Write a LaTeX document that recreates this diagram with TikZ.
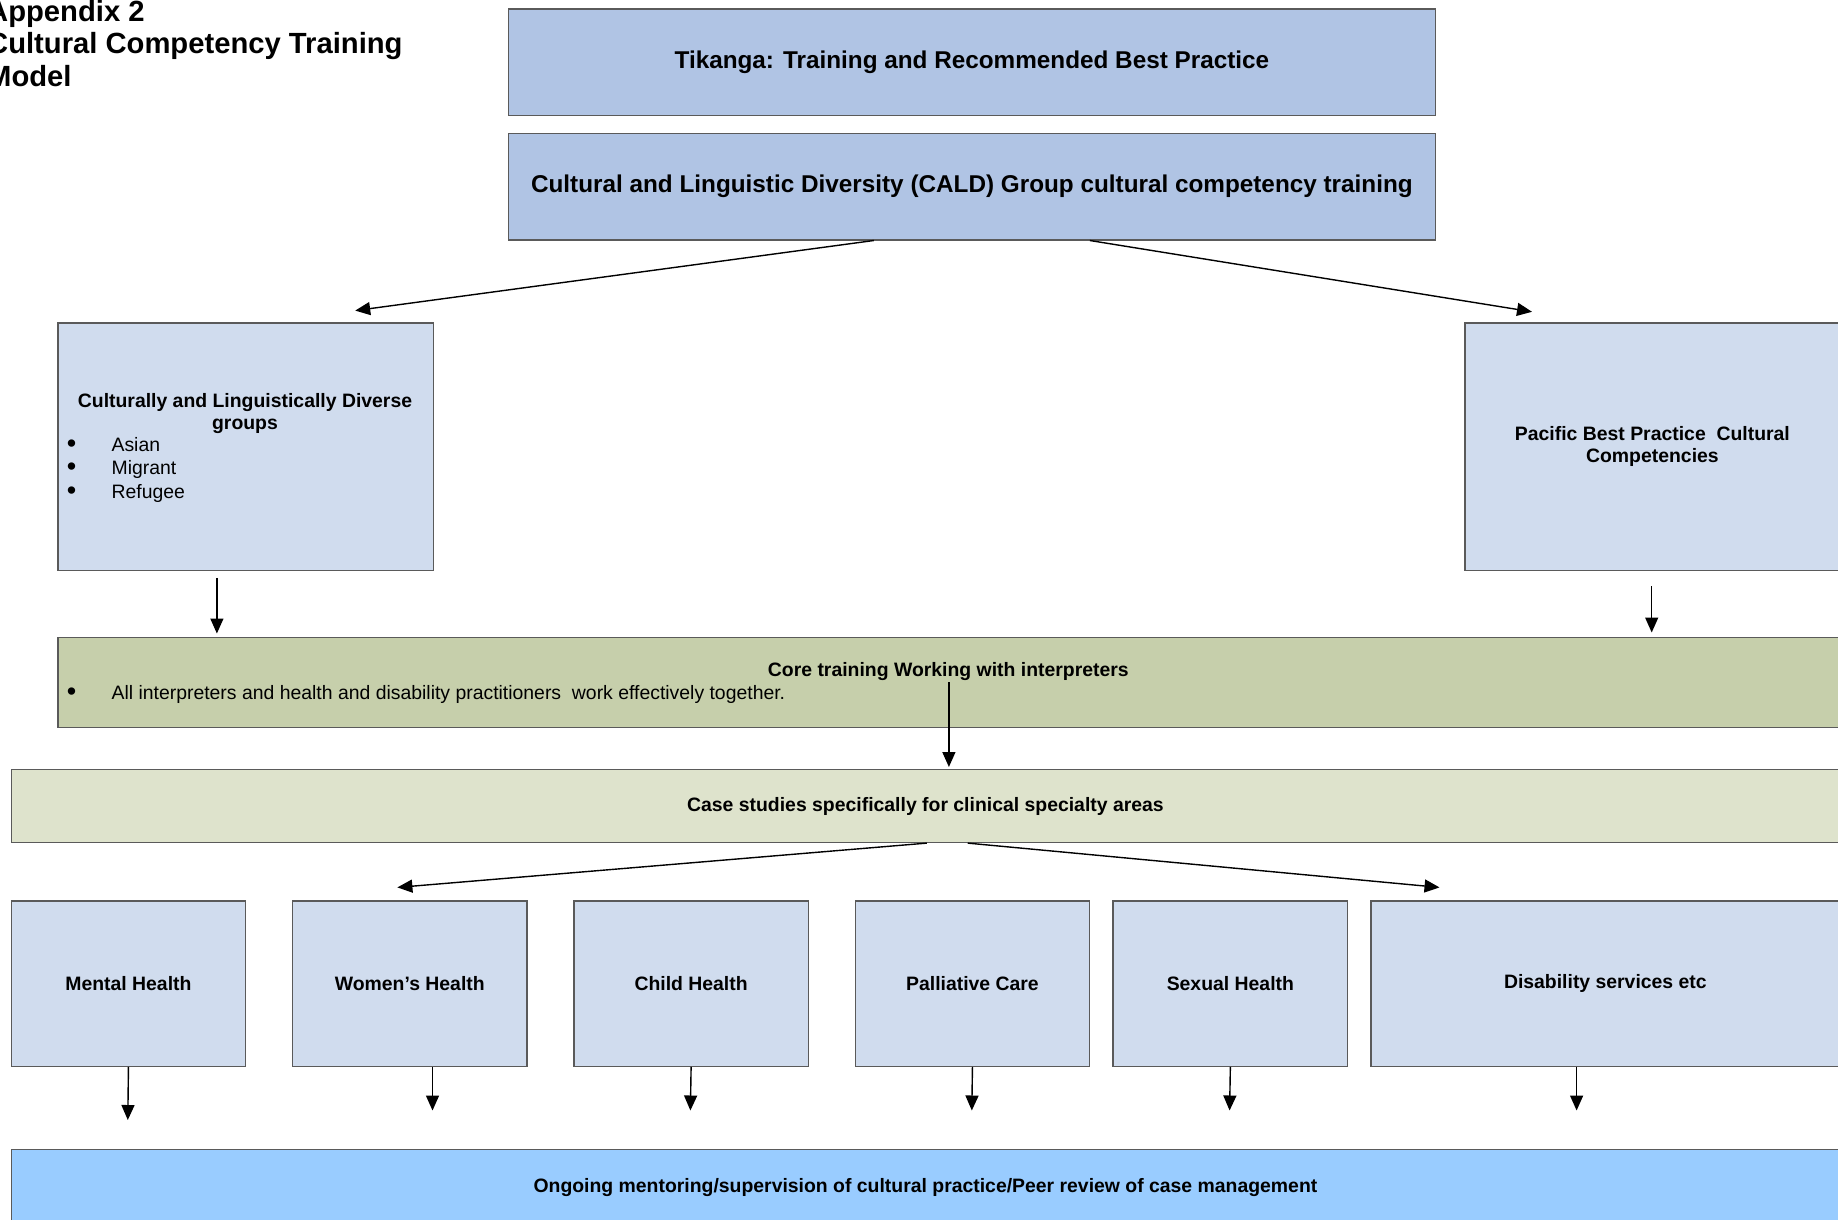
\documentclass[tikz,border=0pt]{standalone}
\usepackage{fontspec}
\setmainfont{Liberation Sans}
\usetikzlibrary{arrows.meta,calc}
\definecolor{topblue}{HTML}{B0C4E4}
\definecolor{paleblue}{HTML}{D0DCEE}
\definecolor{coregreen}{HTML}{C6CFAB}
\definecolor{casegreen}{HTML}{DEE3CC}
\definecolor{skyblue}{HTML}{99CCFF}
\definecolor{edgegray}{HTML}{5A5A5A}
\newcommand{\bigbul}{{\fontsize{27}{27}\selectfont\textbullet}}
\begin{document}
\begin{tikzpicture}[x=1pt,y=-1pt,
  box/.style={draw=edgegray, line width=1.4pt, rectangle, inner sep=0pt, anchor=north west, align=center},
  bigtxt/.style={font=\fontsize{24.3}{28}\selectfont\bfseries},
  midtxt/.style={font=\fontsize{19.4}{22.3}\selectfont\bfseries},
  plain/.style={inner sep=0pt, font=\fontsize{19.4}{22.3}\selectfont},
  bold/.style={inner sep=0pt, font=\fontsize{19.4}{22.3}\selectfont\bfseries},
  titletxt/.style={inner sep=0pt, anchor=base west, font=\fontsize{29.2}{33}\selectfont\bfseries},
  conn/.style={line width=1.4pt, -{Triangle[length=15pt,width=13pt]}},
]
\useasboundingbox (0,0) rectangle (1838,1219);

% title
\node[titletxt] (t1) at (-13,21) {Appendix 2};
\node[titletxt] (t2) at (-13,53.5) {Cultural Competency Training};
\node[titletxt] (t3) at (-13,86) {Model};

% top boxes
\node[box, bigtxt, fill=topblue, minimum width=927.2pt, minimum height=106.7pt] (tik) at (507.6,8.2)
  {Tikanga: Training and Recommended Best Practice};
\node[box, bigtxt, fill=topblue, minimum width=927.2pt, minimum height=106.6pt] (cald) at (507.6,132.5)
  {Cultural and Linguistic Diversity (CALD) Group cultural competency training};

% second row
\node[box, fill=paleblue, minimum width=375.1pt, minimum height=247.3pt] (cldbox) at (57.4,322.4) {};
\node[bold, align=center] (cldtitle) at (245,413.3) {Culturally and Linguistically Diverse\\groups};
\node[plain, anchor=base] (b1) at (71.5,452.3) {\bigbul};
\node[plain, anchor=base west] (i1) at (111.4,451.3) {Asian};
\node[plain, anchor=base] (b2) at (71.5,475.7) {\bigbul};
\node[plain, anchor=base west] (i2) at (111.4,474.7) {Migrant};
\node[plain, anchor=base] (b3) at (71.5,499.2) {\bigbul};
\node[plain, anchor=base west] (i3) at (111.4,498.2) {Refugee};

\node[box, midtxt, fill=paleblue, minimum width=375.2pt, minimum height=247.3pt] (pac) at (1464.1,322.4)
  {Pacific Best Practice\ \ Cultural\\Competencies};

% core training
\node[box, fill=coregreen, minimum width=1781.6pt, minimum height=90.3pt] (core) at (57.4,636.5) {};
\node[bold, anchor=base] (coretitle) at (948.3,676.3) {Core training Working with interpreters};
\node[plain, anchor=base] (cb) at (71.5,700.8) {\bigbul};
\node[plain, anchor=base west] (ci) at (111.4,699.8) {All interpreters and health and disability practitioners\ \ work effectively together.};

% case studies
\node[box, midtxt, fill=casegreen, minimum width=1828.5pt, minimum height=72.7pt] (case) at (10.5,769)
  {Case studies specifically for clinical specialty areas};

% specialty boxes
\node[box, midtxt, fill=paleblue, minimum width=234.5pt, minimum height=165.2pt] (mh) at (10.5,900.3) {Mental Health};
\node[box, midtxt, fill=paleblue, minimum width=234.4pt, minimum height=165.2pt] (wh) at (291.9,900.3) {Women’s Health};
\node[box, midtxt, fill=paleblue, minimum width=234.4pt, minimum height=165.2pt] (ch) at (573.2,900.3) {Child Health};
\node[box, midtxt, fill=paleblue, minimum width=234.5pt, minimum height=165.2pt] (pc) at (854.5,900.3) {Palliative Care};
\node[box, midtxt, fill=paleblue, minimum width=234.5pt, minimum height=165.2pt] (sh) at (1112.4,900.3) {Sexual Health};
\node[box, midtxt, fill=paleblue, minimum width=468.7pt, minimum height=165.2pt] (dis) at (1370.3,900.3) {Disability services etc};

% ongoing
\node[box, midtxt, fill=skyblue, minimum width=1828.5pt, minimum height=76.8pt] (ongo) at (10.5,1148.8)
  {Ongoing mentoring/supervision of cultural practice/Peer review of case management};

% free ends
\coordinate (aL) at (355.2,310.6);
\coordinate (aR) at (1532,311.8);
\coordinate (lsrc) at (216.9,577.9);
\coordinate (rsrc) at (1651.7,586);
\coordinate (cL) at (397.4,887.4);
\coordinate (cR) at (1439.5,887.4);
\coordinate (emh) at (127.8,1120);
\coordinate (ewh) at (432.5,1110.5);
\coordinate (ech) at (690.4,1110.5);
\coordinate (epc) at (971.8,1110.5);
\coordinate (esh) at (1229.6,1110.5);
\coordinate (edis) at (1576.6,1110.5);

% connectors
\draw[conn] ($(cald.south west)!0.3944!(cald.south east)$) -- (aL);
\draw[conn] ($(cald.south west)!0.627!(cald.south east)$) -- (aR);
\draw[conn, shorten >=3pt] (lsrc) -- (lsrc |- core.north);
\draw[conn, shorten >=4pt] (rsrc) -- (rsrc |- core.north);
\draw[conn, shorten >=2pt] (core.center) -- (core.center |- case.north);
\draw[conn] ($(case.south)+(1.3,0)$) -- (cL);
\draw[conn] ($(case.south)+(42.3,0)$) -- (cR);
\draw[conn] (mh.south) -- (emh);
\draw[conn] (ewh |- wh.south) -- (ewh);
\draw[conn] (ch.south) -- (ech);
\draw[conn] (pc.south) -- (epc);
\draw[conn] (sh.south) -- (esh);
\draw[conn] (edis |- dis.south) -- (edis);
\end{tikzpicture}
\end{document}
